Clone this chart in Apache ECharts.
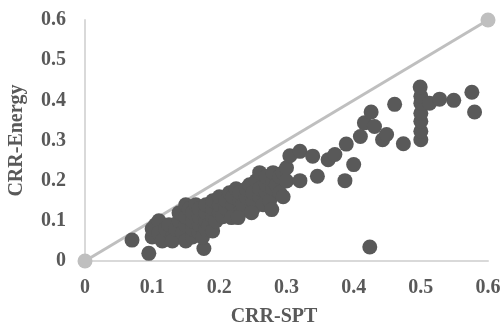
<!DOCTYPE html>
<html>
<head>
<meta charset="utf-8">
<script src="https://cdn.jsdelivr.net/npm/echarts@6/dist/echarts.min.js"></script>
<style>
  html, body { margin: 0; padding: 0; background: #fff; }
  #chart { width: 502px; height: 326px; }
</style>
</head>
<body>
<div id="chart"></div>
<script>
// CRR values (x = CRR-SPT, y = CRR-Energy)
const crrSpt = [
  0.07, 0.095, 0.177, 0.424,
  0.10, 0.10, 0.105, 0.11, 0.11, 0.115, 0.12, 0.125, 0.13, 0.13, 0.135, 0.14, 0.14, 0.145,
  0.15, 0.15, 0.15, 0.15, 0.155, 0.16, 0.16, 0.16, 0.16, 0.165, 0.17, 0.17, 0.17, 0.17,
  0.175, 0.18, 0.18, 0.18, 0.18, 0.185, 0.19, 0.19, 0.19, 0.19, 0.195, 0.20, 0.20, 0.20,
  0.205, 0.21, 0.21, 0.215, 0.22, 0.22, 0.22, 0.225, 0.23, 0.23, 0.23, 0.235, 0.24, 0.24,
  0.245, 0.25, 0.25, 0.25, 0.255, 0.26, 0.26, 0.26, 0.265, 0.27, 0.27, 0.27, 0.275, 0.28,
  0.28, 0.28, 0.285, 0.29, 0.29, 0.295,
  0.218, 0.228, 0.248, 0.278, 0.295, 0.30, 0.30, 0.305, 0.32, 0.32, 0.339, 0.346, 0.362,
  0.372, 0.387, 0.389, 0.40, 0.41, 0.416, 0.426, 0.431, 0.443, 0.449, 0.461, 0.474,
  0.50, 0.50, 0.50, 0.50, 0.50, 0.50, 0.499, 0.513, 0.528, 0.549, 0.576, 0.58
];
const crrEnergy = [
  0.052, 0.019, 0.031, 0.035,
  0.06, 0.08, 0.09, 0.10, 0.07, 0.05, 0.08, 0.09, 0.06, 0.05, 0.08, 0.10, 0.12, 0.07,
  0.05, 0.09, 0.11, 0.14, 0.13, 0.06, 0.08, 0.10, 0.12, 0.14, 0.07, 0.09, 0.11, 0.13,
  0.06, 0.08, 0.10, 0.12, 0.14, 0.09, 0.075, 0.11, 0.13, 0.15, 0.10, 0.12, 0.14, 0.16,
  0.11, 0.13, 0.15, 0.17, 0.11, 0.14, 0.16, 0.18, 0.12, 0.15, 0.17, 0.14, 0.16, 0.18,
  0.19, 0.13, 0.15, 0.17, 0.20, 0.16, 0.18, 0.22, 0.14, 0.17, 0.19, 0.21, 0.15, 0.18,
  0.20, 0.22, 0.19, 0.17, 0.21, 0.22,
  0.108, 0.108, 0.12, 0.128, 0.16, 0.199, 0.232, 0.262, 0.273, 0.20, 0.261, 0.211, 0.252,
  0.265, 0.20, 0.291, 0.24, 0.31, 0.344, 0.371, 0.335, 0.302, 0.315, 0.39, 0.292,
  0.302, 0.323, 0.348, 0.368, 0.393, 0.41, 0.433, 0.393, 0.403, 0.40, 0.42, 0.371
];
const refLineX = [0, 0.6];
const refLineY = [0, 0.6];
const tickValues = [0, 0.1, 0.2, 0.3, 0.4, 0.5, 0.6];

const chart = echarts.init(document.getElementById('chart'));

const labelFont = {
  color: '#595959',
  fontFamily: '"Liberation Serif", "Times New Roman", serif',
  fontWeight: 'bold',
  fontSize: 20,
};
const fmt = (v) => (v === 0 ? '0' : v.toFixed(1));

const option = {
  animation: false,
  backgroundColor: '#ffffff',
  grid: {
    left: 85, right: 14, top: 20, bottom: 65,
    containLabel: false,
    outerBoundsMode: 'none',
  },
  xAxis: {
    type: 'value',
    min: tickValues[0],
    max: tickValues[tickValues.length - 1],
    interval: 0.1,
    name: 'CRR-SPT',
    nameLocation: 'middle',
    nameGap: 46,
    nameTextStyle: { ...labelFont, fontSize: 20, padding: [0, 25, 0, 0] },
    axisLine: { show: true, lineStyle: { color: '#d9d9d9', width: 2 } },
    axisTick: { show: false },
    splitLine: { show: false },
    axisLabel: { ...labelFont, margin: 17, formatter: fmt },
  },
  yAxis: {
    type: 'value',
    min: tickValues[0],
    max: tickValues[tickValues.length - 1],
    interval: 0.1,
    name: 'CRR-Energy',
    nameLocation: 'middle',
    nameGap: 58,
    nameRotate: 90,
    nameTextStyle: { ...labelFont, fontSize: 20 },
    axisLine: { show: true, lineStyle: { color: '#d9d9d9', width: 2 } },
    axisTick: { show: false },
    splitLine: { show: false },
    axisLabel: { ...labelFont, margin: 19, formatter: fmt },
  },
  series: [
    {
      name: '1:1',
      type: 'line',
      z: 1,
      data: refLineX.map((x, i) => [x, refLineY[i]]),
      symbol: 'circle',
      symbolSize: 15,
      showSymbol: true,
      lineStyle: { color: '#bfbfbf', width: 3 },
      itemStyle: { color: '#bfbfbf' },
      clip: false,
    },
    {
      name: 'CRR',
      type: 'scatter',
      z: 2,
      data: crrSpt.map((x, i) => [x, crrEnergy[i]]),
      symbol: 'circle',
      symbolSize: 15,
      itemStyle: { color: '#595959', opacity: 1 },
    },
  ],
};

chart.setOption(option);
</script>
</body>
</html>
